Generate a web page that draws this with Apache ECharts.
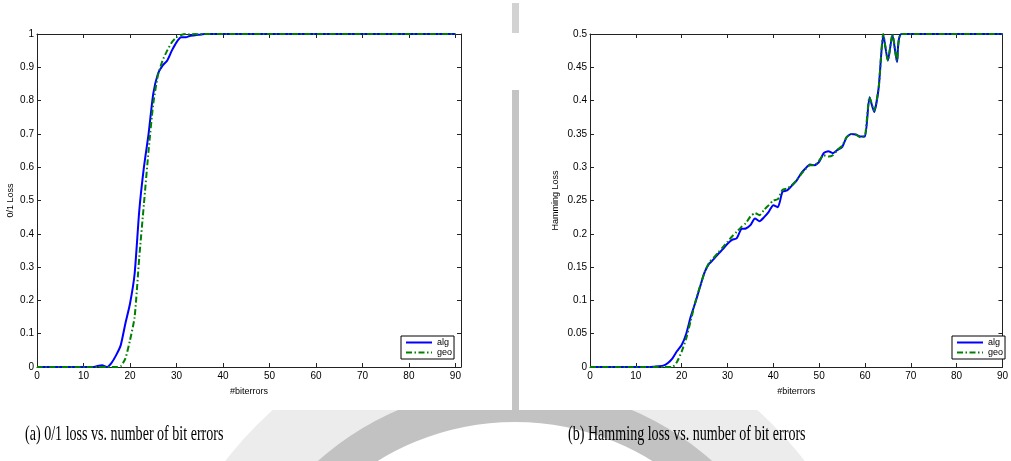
<!DOCTYPE html>
<html lang="en">
<head>
    <meta charset="UTF-8">
    <title>Loss vs bit errors</title>
    <script src="https://cdn.jsdelivr.net/npm/echarts@6/dist/echarts.min.js"></script>
</head>
<body style="margin:0;background:#fff">
<div id="main" style="width:1011px;height:461px"></div>
<script>
    // (a) 0/1 loss
    const lossX = [0, 12, 13, 14, 15, 16, 17, 18, 19, 20, 21, 22, 23, 24, 25, 26, 27, 28, 29, 30, 31, 32, 33, 34, 35, 36, 37, 38, 40, 90];
    const lossAlg = [0, 0, 0.003, 0.005, 0, 0.012, 0.035, 0.065, 0.13, 0.19, 0.28, 0.47, 0.60, 0.70, 0.82, 0.88, 0.905, 0.92, 0.95, 0.975, 0.99, 0.99, 0.995, 0.996, 0.998, 1, 1, 1, 1, 1];
    const lossGeo = [0, 0, 0, 0, 0, 0, 0, 0.002, 0.025, 0.08, 0.15, 0.33, 0.49, 0.65, 0.79, 0.875, 0.92, 0.95, 0.975, 0.99, 0.997, 1, 0.998, 1, 0.999, 1, 1, 1, 1, 1];

    // (b) Hamming loss
    const hamX = [0, 13, 14, 15, 16, 17, 18, 19, 20, 21, 22, 23, 24, 25, 26, 27, 28, 29, 30, 31, 32, 33, 34, 35, 36, 37, 38, 39, 40,
        41, 42, 43, 44, 45, 46, 47, 48, 49, 50, 51, 52, 53, 54, 55, 56, 57, 58, 59, 60, 61, 62, 63, 64, 65, 66, 67, 68, 90];
    const hamAlg = [0, 0, 0.0005, 0.001, 0.002, 0.006, 0.013, 0.024, 0.033, 0.05, 0.076, 0.097, 0.12, 0.142, 0.155, 0.162, 0.17, 0.177, 0.185, 0.191, 0.193, 0.207, 0.208, 0.213, 0.223, 0.219, 0.225, 0.233, 0.243,
        0.24, 0.263, 0.265, 0.272, 0.279, 0.29, 0.298, 0.304, 0.303, 0.308, 0.321, 0.324, 0.321, 0.326, 0.33, 0.345, 0.35, 0.349, 0.346, 0.346, 0.405, 0.383, 0.42, 0.499, 0.46, 0.499, 0.458, 0.5, 0.5];
    const hamGeo = [0, 0, 0, 0, 0, 0, 0, 0.008, 0.023, 0.043, 0.07, 0.098, 0.121, 0.142, 0.157, 0.164, 0.172, 0.18, 0.188, 0.196, 0.203, 0.21, 0.216, 0.226, 0.231, 0.228, 0.236, 0.243, 0.25,
        0.252, 0.266, 0.268, 0.273, 0.28, 0.289, 0.297, 0.303, 0.303, 0.31, 0.318, 0.316, 0.318, 0.326, 0.332, 0.345, 0.35, 0.349, 0.345, 0.347, 0.405, 0.385, 0.42, 0.5, 0.46, 0.5, 0.46, 0.5, 0.5];

    const captionA = '(a) 0/1 loss vs. number of bit errors';
    const captionB = '(b) Hamming loss vs. number of bit errors';

    const zip = (xs, ys) => xs.map((x, i) => [x, ys[i]]);

    const sans = 'Liberation Sans';
    const lab = {fontSize: 10, fontFamily: sans, color: '#000'};
    const axLine = {onZero: false, lineStyle: {color: '#222', width: 1}};
    const tick = {inside: true, length: 4, lineStyle: {color: '#222'}};

    function xAx(grid, max, pos, named) {
        return {
            gridIndex: grid, type: 'value', min: 0, max: max, interval: 10, position: pos,
            axisLine: axLine, axisTick: tick, splitLine: {show: false},
            axisLabel: named ? Object.assign({margin: 4, formatter: v => v > 90 ? '' : v}, lab) : {show: false},
            name: named ? '#biterrors' : '', nameLocation: 'middle', nameGap: 20,
            nameTextStyle: {fontSize: 9, fontFamily: sans, color: '#000'}
        };
    }

    function yAx(grid, max, step, pos, name, gap) {
        return {
            gridIndex: grid, type: 'value', min: 0, max: max, interval: step, position: pos,
            axisLine: axLine, axisTick: tick, splitLine: {show: false},
            axisLabel: name ? Object.assign({margin: 3}, lab) : {show: false},
            name: name || '', nameLocation: 'middle', nameGap: gap,
            nameTextStyle: {fontSize: 9, fontFamily: sans, color: '#000'}
        };
    }

    function legendAt(left) {
        return {
            left: left, top: 336, orient: 'vertical', data: ['alg', 'geo'], selectedMode: false,
            itemWidth: 26, itemHeight: 8, itemGap: 1, padding: [2, 2, 2, 4],
            itemStyle: {opacity: 0},
            borderColor: '#000', borderWidth: 1, borderRadius: 0, backgroundColor: '#fff',
            textStyle: {fontSize: 9, fontFamily: sans, color: '#000'}
        };
    }

    function line(name, x, y, data) {
        const alg = name === 'alg';
        return {
            name: name, type: 'line', xAxisIndex: x, yAxisIndex: y, data: data,
            symbol: 'none', showSymbol: false, smooth: 0.2, animation: false,
            lineStyle: {color: alg ? '#0000ff' : '#008000', width: 2, type: alg ? 'solid' : [6, 2.5, 1.5, 2.5]},
            itemStyle: {color: alg ? '#0000ff' : '#008000'}
        };
    }

    const chart = echarts.init(document.getElementById('main'));
    chart.setOption({
        backgroundColor: '#fff',
        animation: false,
        grid: [
            {left: 37, top: 34, width: 424, height: 333},
            {left: 590, top: 34, width: 418, height: 333}
        ],
        xAxis: [
            xAx(0, 91.2, 'bottom', true), xAx(0, 91.2, 'top', false),
            xAx(1, 90, 'bottom', true), xAx(1, 90, 'top', false)
        ],
        yAxis: [
            yAx(0, 1, 0.1, 'left', '0/1 Loss', 22), yAx(0, 1, 0.1, 'right', null, 0),
            yAx(1, 0.5, 0.05, 'left', 'Hamming Loss', 30), yAx(1, 0.5, 0.05, 'right', null, 0)
        ],
        legend: [legendAt(401), legendAt(952)],
        series: [
            line('alg', 0, 0, zip(lossX, lossAlg)),
            line('geo', 0, 0, zip(lossX, lossGeo)),
            line('alg', 2, 2, zip(hamX, hamAlg)),
            line('geo', 2, 2, zip(hamX, hamGeo))
        ],
        graphic: [
            // faint seal watermark behind the captions
            {type: 'ring', z: -3, shape: {cx: 515, cy: 683, r: 365, r0: 297}, style: {fill: '#ececec'}},
            {type: 'ring', z: -3, shape: {cx: 515, cy: 683, r: 297, r0: 261}, style: {fill: '#c2c2c2'}},
            // the two figure images are opaque
            {type: 'rect', z: -2, shape: {x: 0, y: 0, width: 512, height: 410}, style: {fill: '#fff'}},
            {type: 'rect', z: -2, shape: {x: 519, y: 0, width: 492, height: 410}, style: {fill: '#fff'}},
            // grey strip between the two figures
            {type: 'rect', z: -1, shape: {x: 512, y: 3, width: 7, height: 30}, style: {fill: '#d2d2d2'}},
            {type: 'rect', z: -1, shape: {x: 512, y: 33, width: 7, height: 57}, style: {fill: '#fff'}},
            {type: 'rect', z: -1, shape: {x: 512, y: 90, width: 7, height: 320}, style: {fill: '#c4c4c4'}},
            {
                type: 'text', x: 25, y: 424, scaleX: 0.67,
                style: {text: captionA, fontSize: 21, fontFamily: 'Liberation Serif', fill: '#000', textAlign: 'left', textVerticalAlign: 'top'}
            },
            {
                type: 'text', x: 568, y: 424, scaleX: 0.67,
                style: {text: captionB, fontSize: 21, fontFamily: 'Liberation Serif', fill: '#000', textAlign: 'left', textVerticalAlign: 'top'}
            }
        ]
    });
</script>
</body>
</html>
